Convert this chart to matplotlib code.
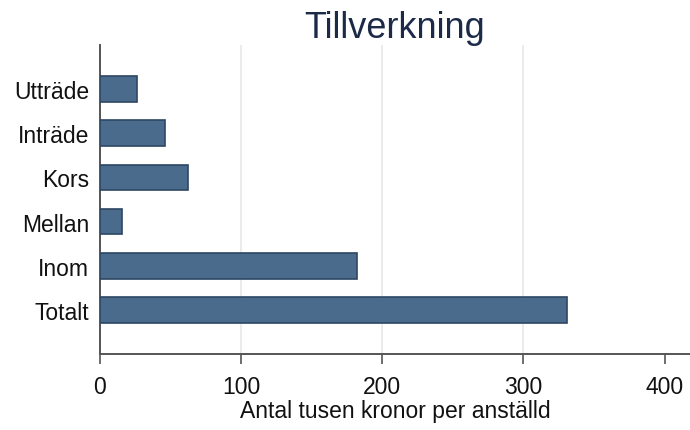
import matplotlib
matplotlib.use("Agg")
import matplotlib.pyplot as plt

plt.rcParams["font.family"] = ["Liberation Sans", "DejaVu Sans"]

# data, bottom to top
categories = ["Totalt", "Inom", "Mellan", "Kors", "Inträde", "Utträde"]
values = [331, 182, 15.5, 62, 46, 26]
xticks = [0, 100, 200, 300, 400]

bar_color = "#4b6b8c"
edge_color = "#2d4762"
spine_color = "#555555"

W, H = 690, 431
fig = plt.figure(figsize=(W / 100, H / 100), dpi=100)
ax = fig.add_axes([100 / W, 1 - 355 / H, 590 / W, (355 - 46) / H])

ypos = range(len(categories))
ax.barh(ypos, values, height=0.58, color=bar_color, edgecolor=edge_color,
        linewidth=1.2, zorder=3)

ax.set_xlim(0, 418)
ax.set_ylim(-1, len(categories))
ax.set_xticks(xticks)
ax.set_yticks(list(ypos))
ax.set_yticklabels(categories)

# light vertical grid, none at 0 or 400
for x in xticks[1:-1]:
    ax.axvline(x, color="#e6e8ea", linewidth=1.2, zorder=0)

for s in ["top", "right"]:
    ax.spines[s].set_visible(False)
for s in ["left", "bottom"]:
    ax.spines[s].set_color(spine_color)
    ax.spines[s].set_linewidth(1.4)

ax.tick_params(axis="x", length=7, width=1.2, color=spine_color, pad=8,
               labelsize=16.5, labelcolor="#111111")
ax.tick_params(axis="y", length=0, pad=8, labelsize=16.5, labelcolor="#111111")

ax.set_xlabel("Antal tusen kronor per anställd", fontsize=16.5,
              color="#111111", labelpad=1)
ax.set_title("Tillverkning", fontsize=26, color="#1c2a48", pad=6)

fig.savefig("out.png", dpi=100)
